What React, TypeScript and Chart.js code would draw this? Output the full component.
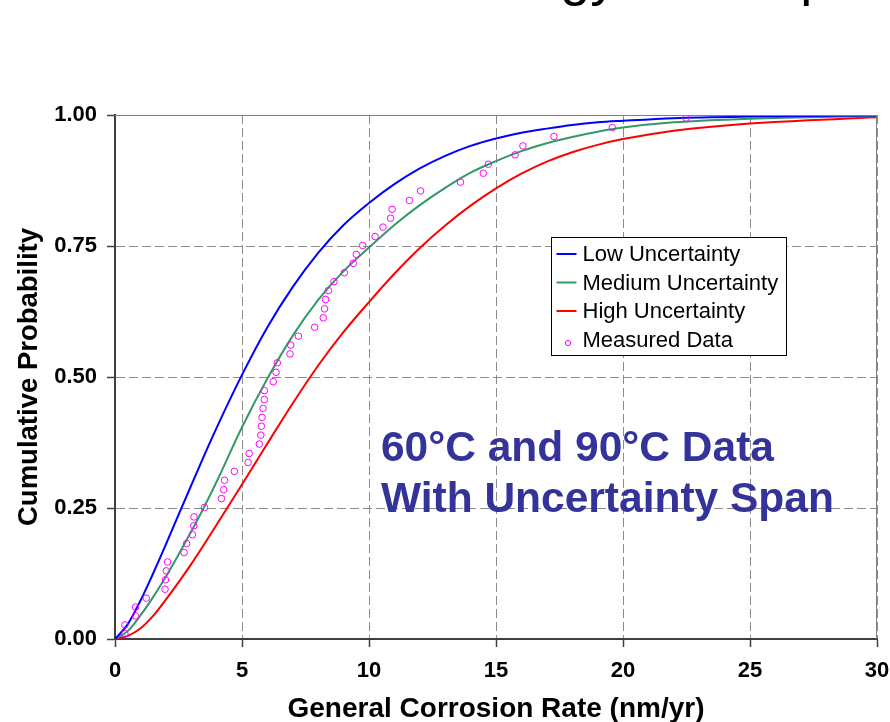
import React, { useEffect, useRef } from "react";
import { Chart, registerables } from "chart.js";

Chart.register(...registerables);

// ---- data ----
const rateGrid = [0, 0.5, 1, 1.5, 2, 2.5, 3, 3.5, 4, 5, 6, 7, 8, 9, 10, 11, 12, 13, 14, 15, 16, 17, 18, 19, 20, 22, 25, 30];
const lowUncertainty = [0, 0.028, 0.073, 0.125, 0.18, 0.237, 0.293, 0.349, 0.403, 0.504, 0.595, 0.672, 0.737, 0.79, 0.832, 0.868, 0.898, 0.922, 0.941, 0.955, 0.966, 0.974, 0.981, 0.986, 0.989, 0.994, 0.997, 0.999];
const mediumUncertainty = [0, 0.015, 0.045, 0.08, 0.119, 0.161, 0.205, 0.251, 0.3, 0.404, 0.497, 0.579, 0.647, 0.702, 0.747, 0.79, 0.828, 0.861, 0.89, 0.912, 0.931, 0.946, 0.958, 0.968, 0.976, 0.986, 0.993, 0.998];
const highUncertainty = [0, 0.006, 0.02, 0.044, 0.075, 0.108, 0.143, 0.18, 0.218, 0.295, 0.373, 0.45, 0.522, 0.586, 0.643, 0.697, 0.746, 0.789, 0.827, 0.86, 0.888, 0.911, 0.929, 0.943, 0.954, 0.97, 0.984, 0.9955];

const measuredRate = [0.39, 0.39, 0.81, 0.81, 1.23, 1.97, 1.99, 2.02, 2.07, 2.72, 2.82, 3.05, 3.1, 3.11, 3.52, 4.19, 4.28, 4.31, 4.7, 5.24, 5.28, 5.68, 5.74, 5.76, 5.79, 5.83, 5.88, 5.88, 6.23, 6.34, 6.39, 6.89, 6.92, 7.22, 7.86, 8.2, 8.25, 8.29, 8.4, 8.62, 9.03, 9.38, 9.5, 9.75, 10.24, 10.55, 10.85, 10.91, 11.59, 12.03, 13.6, 14.5, 14.7, 15.75, 16.06, 17.28, 19.58, 22.48];
const measuredProb = [0.01, 0.027, 0.044, 0.061, 0.078, 0.095, 0.113, 0.13, 0.147, 0.165, 0.182, 0.199, 0.216, 0.233, 0.251, 0.268, 0.285, 0.303, 0.32, 0.337, 0.354, 0.372, 0.389, 0.406, 0.423, 0.44, 0.457, 0.474, 0.491, 0.509, 0.527, 0.544, 0.561, 0.578, 0.595, 0.613, 0.63, 0.648, 0.665, 0.682, 0.699, 0.717, 0.734, 0.751, 0.768, 0.786, 0.803, 0.82, 0.837, 0.855, 0.872, 0.889, 0.906, 0.924, 0.941, 0.959, 0.976, 0.994];

const xTicks = [0, 5, 10, 15, 20, 25, 30];
const yTicks = [0, 0.25, 0.5, 0.75, 1];

const seriesLabels = ["Low Uncertainty", "Medium Uncertainty", "High Uncertainty", "Measured Data"];
const seriesColors = ["#0000FF", "#339966", "#FF0000", "#FF00FF"];
const annotationLines = ["60°C and 90°C Data", "With Uncertainty Span"];
const pageTitle = "Technology Development";
const xTitle = "General Corrosion Rate (nm/yr)";
const yTitle = "Cumulative Probability";

const FONT = "Arial, 'Liberation Sans', Helvetica, sans-serif";

const toPoints = (xs: number[], ys: number[]) => xs.map((x, i) => ({ x, y: ys[i] }));

const decorPlugin = {
  id: "decor",
  afterDraw(chart: any) {
    const { ctx, chartArea: ca, scales } = chart;
    const xs = scales.x;
    const ys = scales.y;
    ctx.save();

    // top & right frame
    ctx.strokeStyle = "#808080";
    ctx.lineWidth = 1;
    ctx.setLineDash([]);
    ctx.beginPath();
    ctx.moveTo(ca.left, Math.round(ca.top) + 0.5);
    ctx.lineTo(ca.right, Math.round(ca.top) + 0.5);
    ctx.moveTo(Math.round(ca.right) - 0.5, ca.top);
    ctx.lineTo(Math.round(ca.right) - 0.5, ca.bottom);
    ctx.stroke();

    // annotation text
    ctx.fillStyle = "#333399";
    ctx.font = `bold 42.5px ${FONT}`;
    ctx.textAlign = "left";
    ctx.textBaseline = "alphabetic";
    const ax = xs.getPixelForValue(10.47);
    ctx.fillText(annotationLines[0], ax, ys.getPixelForValue(0.34));
    ctx.fillText(annotationLines[1], ax, ys.getPixelForValue(0.242));

    // legend box
    const L = 551.5, T = 237.5, W = 235, H = 118;
    ctx.fillStyle = "#FFFFFF";
    ctx.fillRect(L, T, W, H);
    ctx.strokeStyle = "#000000";
    ctx.lineWidth = 1;
    ctx.strokeRect(L, T, W, H);
    const rowY = [T + 16.5, T + 45, T + 73.5, T + 102.5];
    ctx.font = `22px ${FONT}`;
    ctx.textBaseline = "middle";
    seriesLabels.forEach((lab, i) => {
      const y = rowY[i];
      if (i < 3) {
        ctx.strokeStyle = seriesColors[i];
        ctx.lineWidth = 2;
        ctx.beginPath();
        ctx.moveTo(L + 5, y);
        ctx.lineTo(L + 25, y);
        ctx.stroke();
      } else {
        ctx.strokeStyle = seriesColors[i];
        ctx.lineWidth = 1;
        ctx.beginPath();
        ctx.arc(L + 16.5, y + 3, 2.6, 0, Math.PI * 2);
        ctx.stroke();
      }
      ctx.fillStyle = "#000000";
      ctx.fillText(lab, L + 31, y + 1);
    });

    // page title (clipped at top)
    ctx.fillStyle = "#000000";
    ctx.font = `54px ${FONT}`;
    ctx.textBaseline = "alphabetic";
    ctx.fillText(pageTitle, 344, -5.5);

    ctx.restore();
  },
};

export default function App() {
  const ref = useRef<HTMLCanvasElement | null>(null);

  useEffect(() => {
    if (!ref.current) return;
    const lineDs = (label: string, color: string, ys: number[]) => ({
      type: "line" as const,
      label,
      data: toPoints(rateGrid, ys),
      borderColor: color,
      backgroundColor: color,
      borderWidth: 2,
      pointRadius: 0,
      fill: false,
      cubicInterpolationMode: "monotone" as const,
    });

    const chart = new Chart(ref.current, {
      type: "line",
      data: {
        datasets: [
          {
            type: "line",
            label: seriesLabels[3],
            data: toPoints(measuredRate, measuredProb),
            showLine: false,
            borderColor: seriesColors[3],
            backgroundColor: "rgba(0,0,0,0)",
            pointRadius: 3.3,
            pointBorderWidth: 1,
            pointStyle: "circle",
          } as any,
          lineDs(seriesLabels[0], seriesColors[0], lowUncertainty),
          lineDs(seriesLabels[1], seriesColors[1], mediumUncertainty),
          lineDs(seriesLabels[2], seriesColors[2], highUncertainty),
        ],
      },
      options: {
        responsive: false,
        animation: false,
        events: [],
        layout: { padding: { top: 115, right: 13, left: 0, bottom: 0 } },
        plugins: {
          legend: { display: false },
          tooltip: { enabled: false },
          title: { display: false },
        },
        scales: {
          x: {
            type: "linear",
            min: 0,
            max: 30,
            afterFit: (s: any) => {
              s.height = 83;
              s.paddingLeft = 0;
              s.paddingRight = 0;
            },
            afterBuildTicks: (s: any) => {
              s.ticks = xTicks.map((v) => ({ value: v }));
            },
            ticks: {
              color: "#000000",
              font: { family: FONT, size: 22, weight: "bold" },
              padding: 11,
              maxRotation: 0,
              callback: (v: any) => String(v),
            },
            grid: {
              color: "#8C8C8C",
              lineWidth: 1,
              tickLength: 8,
              tickColor: "#404040",
              tickWidth: 1.5,
            },
            border: { display: true, color: "#404040", width: 2, dash: [9, 4] },
            title: {
              display: true,
              text: xTitle,
              color: "#000000",
              font: { family: FONT, size: 28, weight: "bold", lineHeight: 1 },
              padding: { top: 0, bottom: -1.5 },
            },
          },
          y: {
            type: "linear",
            min: 0,
            max: 1,
            afterFit: (s: any) => {
              s.width = 115;
              s.paddingTop = 0;
              s.paddingBottom = 0;
            },
            afterBuildTicks: (s: any) => {
              s.ticks = yTicks.map((v) => ({ value: v }));
            },
            ticks: {
              color: "#000000",
              font: { family: FONT, size: 22, weight: "bold" },
              padding: 10,
              callback: (v: any) => Number(v).toFixed(2),
            },
            grid: {
              color: "#8C8C8C",
              lineWidth: 1,
              tickLength: 8,
              tickColor: "#404040",
              tickWidth: 1.5,
            },
            border: { display: true, color: "#404040", width: 2, dash: [9, 4] },
            title: {
              display: true,
              text: yTitle,
              color: "#000000",
              font: { family: FONT, size: 27.5, weight: "bold", lineHeight: 1 },
              padding: { top: 16, bottom: 0 },
            },
          },
        },
      } as any,
      plugins: [decorPlugin],
    });
    return () => chart.destroy();
  }, []);

  return (
    <div style={{ position: "absolute", left: 0, top: 0, width: 890, height: 722, background: "#FFFFFF" }}>
      <canvas ref={ref} width={890} height={722} style={{ display: "block", width: 890, height: 722 }} />
    </div>
  );
}
